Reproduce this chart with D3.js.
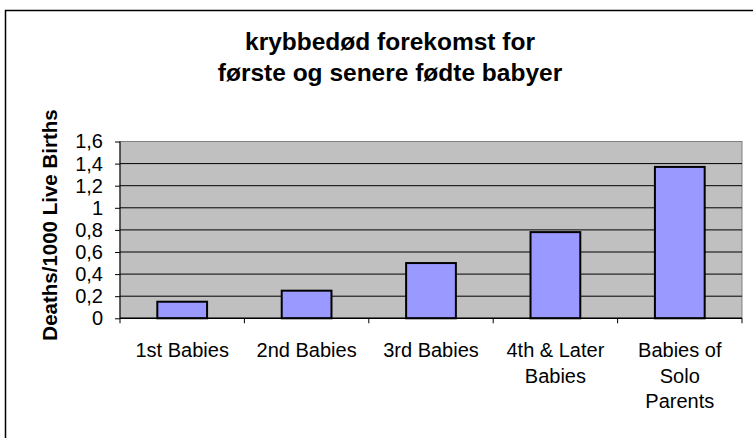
<!DOCTYPE html>
<html>
<head>
<meta charset="utf-8">
<script src="https://cdn.jsdelivr.net/npm/d3@7"></script>
<style>
  body { margin: 0; background: #fff; }
  svg { display: block; font-family: "Liberation Sans", Arial, sans-serif; }
</style>
</head>
<body>
<svg id="chart" width="753" height="438"></svg>
<script>
// data
var categories = ["1st Babies", "2nd Babies", "3rd Babies", "4th & Later Babies", "Babies of Solo Parents"];
var deaths = [0.15, 0.25, 0.5, 0.78, 1.37];
var yTicks = [0, 0.2, 0.4, 0.6, 0.8, 1, 1.2, 1.4, 1.6];
var titleLines = ["krybbedød forekomst for", "første og senere fødte babyer"];
var yTitle = "Deaths/1000 Live Births";

var svg = d3.select("#chart");
var plot = {left: 120, right: 742, top: 141.5, bottom: 318.3};

var data = categories.map(function(c, i) { return {cat: c, val: deaths[i]}; });

var xScale = d3.scaleBand()
	.domain(categories)
	.range([plot.left, plot.right])
	.paddingInner(0.6)
	.paddingOuter(0.3);

var yScale = d3.scaleLinear()
	.domain([0, 1.6])
	.range([plot.bottom, plot.top]);

var fmt = function(d) { return d3.format("~g")(d).replace(".", ","); };

//outer frame (right and bottom edges fall outside the picture)
svg.append("rect")
	.attr("x", 5.5).attr("y", 10.5)
	.attr("width", 800).attr("height", 500)
	.attr("fill", "none")
	.attr("stroke", "#000")
	.attr("stroke-width", 1.5);

//plot area
svg.append("rect")
	.attr("x", plot.left).attr("y", plot.top)
	.attr("width", plot.right - plot.left)
	.attr("height", plot.bottom - plot.top)
	.attr("fill", "#c0c0c0")
	.attr("stroke", "#808080")
	.attr("stroke-width", 1);

//gridlines
svg.append("g").selectAll("line")
	.data(yTicks.filter(function(d) { return d > 0 && d < 1.6; }))
	.enter().append("line")
	.attr("x1", plot.left).attr("x2", plot.right)
	.attr("y1", function(d) { return yScale(d); })
	.attr("y2", function(d) { return yScale(d); })
	.attr("stroke", "#000")
	.attr("stroke-width", 1);

//bars
svg.append("g").selectAll("rect")
	.data(data)
	.enter().append("rect")
	.attr("x", function(d) { return xScale(d.cat); })
	.attr("y", function(d) { return yScale(d.val); })
	.attr("width", xScale.bandwidth())
	.attr("height", function(d) { return yScale(0) - yScale(d.val); })
	.attr("fill", "#9999ff")
	.attr("stroke", "#000")
	.attr("stroke-width", 2);

//y axis
var yAxis = d3.axisLeft(yScale)
	.tickValues(yTicks)
	.tickFormat(fmt)
	.tickSize(5)
	.tickPadding(12);

var gy = svg.append("g")
	.attr("transform", "translate(" + plot.left + ",0)")
	.call(yAxis);
gy.select(".domain").attr("stroke", "#000").attr("d", "M0," + plot.top + "V" + plot.bottom);
gy.selectAll("text").attr("font-size", 20).attr("fill", "#000").attr("font-family", null);

//x axis, ticks sit between the categories
var step = xScale.step();
var edges = d3.range(categories.length + 1).map(function(i) { return plot.left + i * step; });

svg.append("line")
	.attr("x1", plot.left).attr("x2", plot.right)
	.attr("y1", plot.bottom).attr("y2", plot.bottom)
	.attr("stroke", "#000").attr("stroke-width", 1.5);

svg.append("g").selectAll("line")
	.data(edges)
	.enter().append("line")
	.attr("x1", function(d) { return d; }).attr("x2", function(d) { return d; })
	.attr("y1", plot.bottom).attr("y2", plot.bottom + 5)
	.attr("stroke", "#000");

var xLabels = svg.append("g").selectAll("text")
	.data(categories)
	.enter().append("text")
	.attr("x", function(d) { return xScale(d) + xScale.bandwidth() / 2; })
	.attr("y", plot.bottom + 39)
	.attr("text-anchor", "middle")
	.attr("font-size", 20)
	.text(function(d) { return d; })
	.call(wrap, 104);

//wrap long labels, after Bostock
function wrap(text, width) {
	text.each(function() {
		var t = d3.select(this),
			words = t.text().split(/\s+/).reverse(),
			word, line = [], lineNumber = 0,
			x = t.attr("x"), y = t.attr("y"),
			tspan = t.text(null).append("tspan").attr("x", x).attr("y", y);
		while (word = words.pop()) {
			line.push(word);
			tspan.text(line.join(" "));
			if (tspan.node().getComputedTextLength() > width && line.length > 1) {
				line.pop();
				tspan.text(line.join(" "));
				line = [word];
				tspan = t.append("tspan").attr("x", x)
					.attr("y", +y + (++lineNumber) * 25.5)
					.text(word);
			}
		}
	});
}

//title
svg.append("g").selectAll("text")
	.data(titleLines)
	.enter().append("text")
	.attr("x", 390)
	.attr("y", function(d, i) { return 50 + i * 31; })
	.attr("text-anchor", "middle")
	.attr("font-size", 24.5)
	.attr("font-weight", "bold")
	.text(function(d) { return d; });

//y title
svg.append("text")
	.attr("transform", "translate(57,225) rotate(-90)")
	.attr("text-anchor", "middle")
	.attr("font-size", 20.5)
	.attr("font-weight", "bold")
	.text(yTitle);
</script>
</body>
</html>
